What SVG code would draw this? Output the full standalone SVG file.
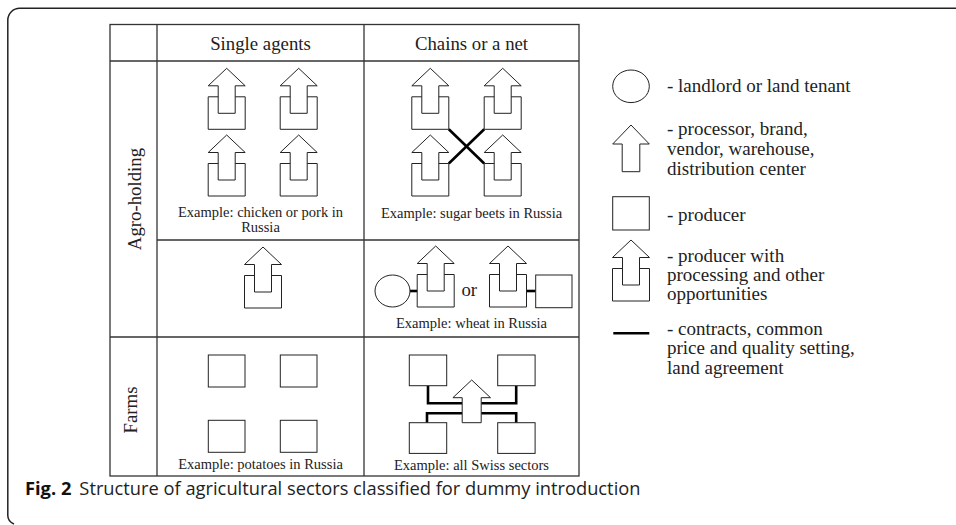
<svg xmlns="http://www.w3.org/2000/svg" xmlns:xlink="http://www.w3.org/1999/xlink" width="956" height="525" viewBox="0 0 956 525">
<style>
.frame{fill:none;stroke:#222;stroke-width:1.5}
.grid{fill:none;stroke:#333;stroke-width:1.3}
.ic{fill:#fff;stroke:#222;stroke-width:1;stroke-linejoin:miter}
.icn{fill:none;stroke:#222;stroke-width:1}
.con{fill:none;stroke:#000;stroke-width:2.6}
.hd{font-family:"Liberation Serif","Times New Roman",serif;font-size:18.8px;fill:#222}
.ex{font-family:"Liberation Serif","Times New Roman",serif;font-size:14.5px;fill:#222}
.lg{font-family:"Liberation Serif","Times New Roman",serif;font-size:19px;fill:#222}
.cap{font-family:"Open Sans","Noto Sans",sans-serif;font-size:18.3px;fill:#222}
.capb{font-weight:bold;fill:#111}
</style>
<defs>
<g id="pp">
<path class="ic" d="M0,0 L18.5,17.5 H8.5 V45 H-8.5 V17.5 H-18.5 Z"/>
<path class="icn" d="M-8.5,28.5 H-18.5 V61 H18.5 V28.5 H8.5"/>
</g>
</defs>
<rect width="956" height="525" fill="#fff"/>
<path class="frame" d="M956,8.3 H20 A12,12 0 0 0 7.8,20.5 V514 A10,10 0 0 0 14,524"/>
<g id="table">
<rect class="grid" x="110" y="24.5" width="469" height="451.5"/>
<line class="grid" x1="157" y1="24.5" x2="157" y2="476"/>
<line class="grid" x1="364" y1="24.5" x2="364" y2="476"/>
<line class="grid" x1="110" y1="61" x2="579" y2="61"/>
<line class="grid" x1="157" y1="240" x2="579" y2="240"/>
<line class="grid" x1="110" y1="337" x2="579" y2="337"/>
<text class="hd" x="260.5" y="50" text-anchor="middle">Single agents</text>
<text class="hd" x="471.5" y="50" text-anchor="middle">Chains or a net</text>
<text class="hd" transform="translate(140.5,199) rotate(-90)" text-anchor="middle">Agro-holding</text>
<text class="hd" transform="translate(137,410) rotate(-90)" text-anchor="middle">Farms</text>
</g>
<g id="connectors">
<line class="con" x1="448.8" y1="129.3" x2="484.2" y2="163.5"/>
<line class="con" x1="484.2" y1="129.3" x2="448.8" y2="163.5"/>
<line class="con" x1="410" y1="291" x2="417.2" y2="291"/>
<line class="con" x1="526.5" y1="291" x2="535.7" y2="291"/>
<path class="con" d="M428,385.7 V403.3 H462.2"/>
<path class="con" d="M516.2,385.7 V403.3 H481.2"/>
<path class="con" d="M427,422.7 V413.3 H462.2"/>
<path class="con" d="M516.2,422.7 V413.3 H481.2"/>
</g>
<g id="single-agro">
<use xlink:href="#pp" x="226.7" y="68.3"/>
<use xlink:href="#pp" x="298.7" y="68.3"/>
<use xlink:href="#pp" x="226.7" y="135"/>
<use xlink:href="#pp" x="298.7" y="135"/>
<text class="ex" x="260.5" y="216.5" text-anchor="middle">Example: chicken or pork in</text>
<text class="ex" x="260.5" y="231.5" text-anchor="middle">Russia</text>
</g>
<g id="chain-agro">
<use xlink:href="#pp" x="430.3" y="68.3"/>
<use xlink:href="#pp" x="502.7" y="68.3"/>
<use xlink:href="#pp" x="430.3" y="135"/>
<use xlink:href="#pp" x="502.7" y="135"/>
<text class="ex" x="471.5" y="218.3" text-anchor="middle">Example: sugar beets in Russia</text>
</g>
<g id="single-agro-2">
<use xlink:href="#pp" x="263" y="247"/>
</g>
<g id="chain-agro-2">
<ellipse class="ic" cx="392.5" cy="291" rx="17.5" ry="16"/>
<use xlink:href="#pp" x="435.7" y="246"/>
<text class="hd" x="469.3" y="296" text-anchor="middle">or</text>
<use xlink:href="#pp" x="508" y="246"/>
<rect class="ic" x="535.7" y="275" width="36.3" height="32.7"/>
<text class="ex" x="471.5" y="328.3" text-anchor="middle">Example: wheat in Russia</text>
</g>
<g id="single-farms">
<rect class="ic" x="208.3" y="355" width="36.7" height="32"/>
<rect class="ic" x="280.3" y="355" width="36.7" height="32"/>
<rect class="ic" x="208.3" y="420.3" width="36.7" height="32"/>
<rect class="ic" x="280.3" y="420.3" width="36.7" height="32"/>
<text class="ex" x="260.5" y="469.3" text-anchor="middle">Example: potatoes in Russia</text>
</g>
<g id="chain-farms">
<rect class="ic" x="409.3" y="355" width="37.4" height="30.7"/>
<rect class="ic" x="497.7" y="355" width="37.4" height="30.7"/>
<rect class="ic" x="409.3" y="422.7" width="37.4" height="30.7"/>
<rect class="ic" x="497.7" y="422.7" width="37.4" height="30.7"/>
<path class="ic" d="M471.7,380 L490.5,397.7 H481.2 V422.7 H462.2 V397.7 H452.9 Z"/>
<text class="ex" x="471.5" y="470" text-anchor="middle">Example: all Swiss sectors</text>
</g>
<g id="legend-landlord">
<ellipse class="ic" cx="631" cy="86.3" rx="18.3" ry="16.3"/>
<text class="lg" x="667" y="91.7">- landlord or land tenant</text>
</g>
<g id="legend-processor">
<path class="ic" d="M631,125 L649.3,144 H639.8 V171.7 H622.2 V144 H612.7 Z"/>
<text class="lg" x="667" y="135">- processor, brand,</text>
<text class="lg" x="667" y="155">vendor, warehouse,</text>
<text class="lg" x="667" y="175">distribution center</text>
</g>
<g id="legend-producer">
<rect class="ic" x="612.7" y="196.7" width="36.6" height="33.3"/>
<text class="lg" x="667" y="221">- producer</text>
</g>
<g id="legend-producer-processing">
<use xlink:href="#pp" x="631" y="240"/>
<text class="lg" x="667" y="261.7">- producer with</text>
<text class="lg" x="667" y="281">processing and other</text>
<text class="lg" x="667" y="300.3">opportunities</text>
</g>
<g id="legend-contract">
<line class="con" x1="613.3" y1="333.3" x2="649.3" y2="333.3"/>
<text class="lg" x="667" y="335">- contracts, common</text>
<text class="lg" x="667" y="354.3">price and quality setting,</text>
<text class="lg" x="667" y="373.5">land agreement</text>
</g>
<text class="cap" x="25" y="494.5"><tspan class="capb">Fig. 2</tspan><tspan dx="8">Structure of agricultural sectors classified for dummy introduction</tspan></text>
</svg>
